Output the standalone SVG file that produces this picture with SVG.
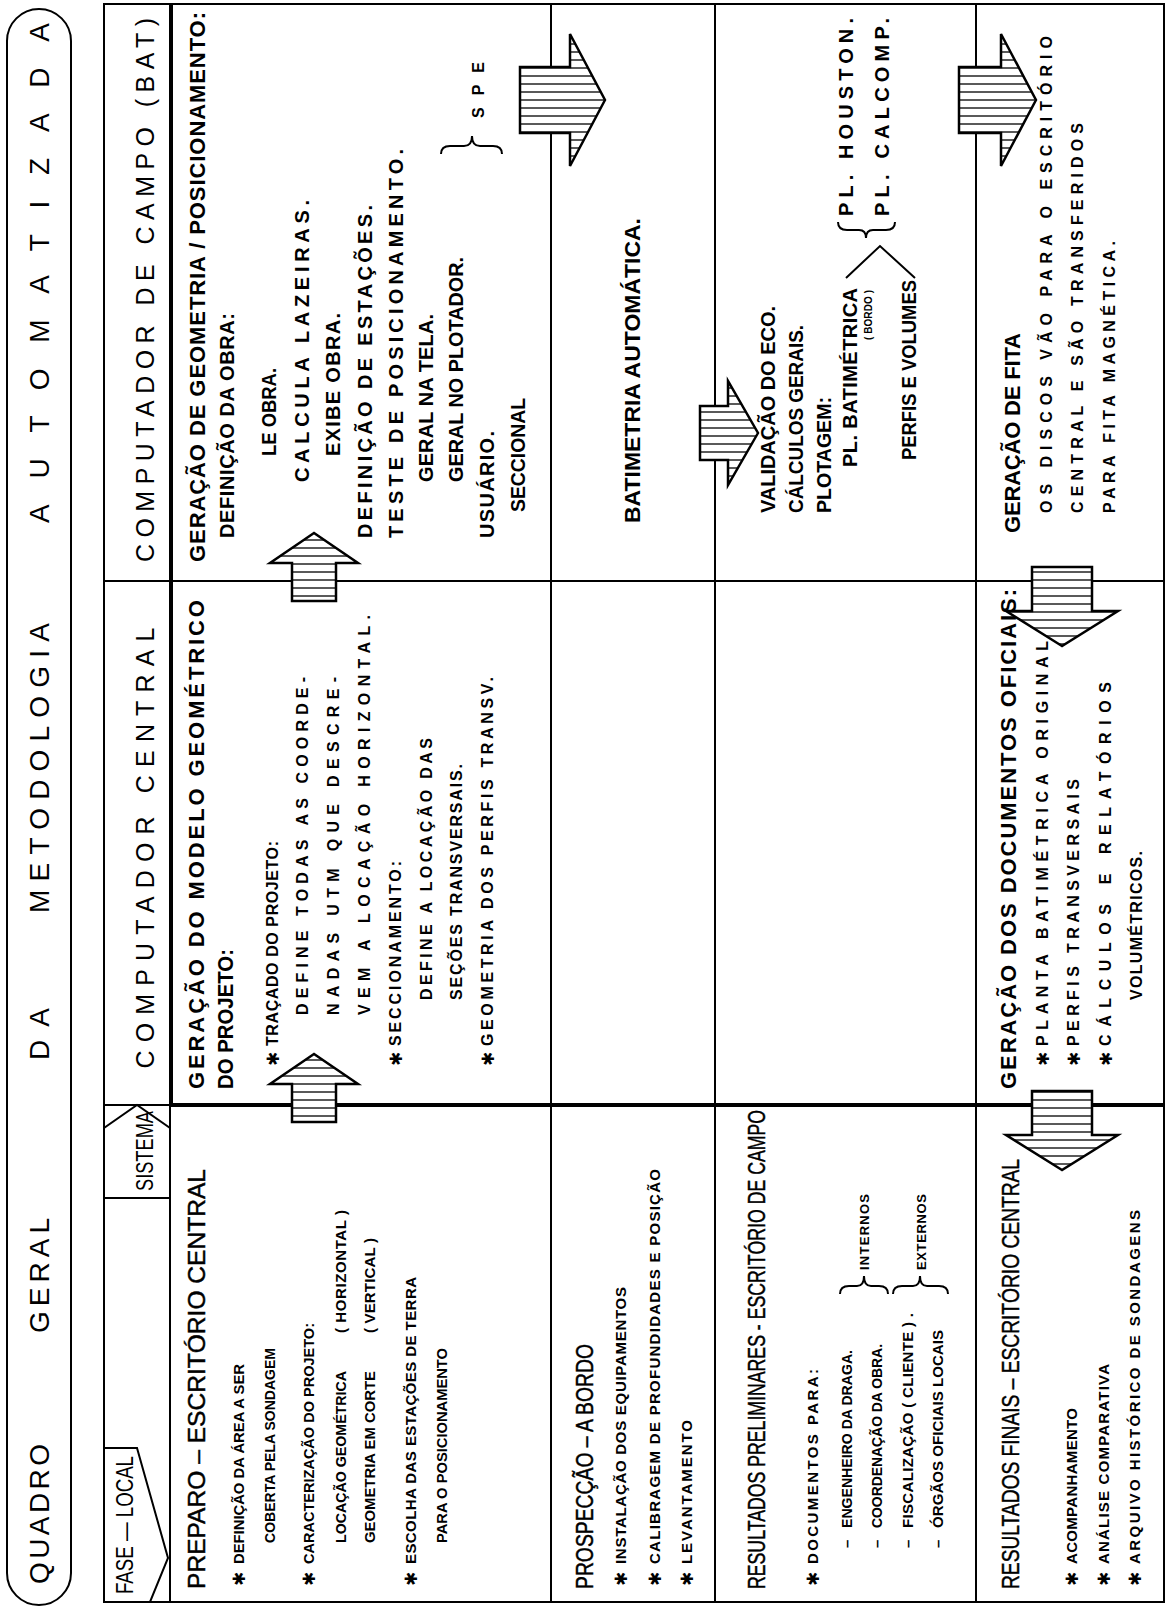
<svg xmlns="http://www.w3.org/2000/svg" width="1172" height="1608" viewBox="0 0 1172 1608" xml:space="preserve">
<defs>
<style>
text{font-family:"Liberation Sans",Arial,sans-serif;fill:#000}
.ttl{font-size:28px}
.hd{font-size:25px}
.tg{font-size:23px}
.rw{font-size:23px;stroke:#000;stroke-width:0.45}
.sb{font-size:15px;font-weight:bold}
.sc{font-size:16px;font-weight:bold}
.cb{font-size:20px;font-weight:bold}
.ch{font-size:22px;font-weight:bold}
.xs{font-size:16px;font-weight:bold}
.xt{font-size:13px;font-weight:bold}
.tn{font-size:10px;font-weight:bold}
.st{font-family:"DejaVu Sans",sans-serif;font-size:17px}
.ln{stroke:#000;stroke-width:2;fill:none}
.lt{stroke:#000;stroke-width:4;fill:none}
.arw{stroke:#000;stroke-width:2.5;stroke-linejoin:miter;fill:url(#hv)}
</style>
<pattern id="hv" width="8" height="8" patternUnits="userSpaceOnUse"><rect width="8" height="8" fill="#fff"/><line x1="4" y1="0" x2="4" y2="8" stroke="#000" stroke-width="1.3"/></pattern>
</defs>
<rect width="1172" height="1608" fill="#fff"/>
<g transform="translate(0,1608) rotate(-90)">
<g id="title">
<rect x="3" y="7" width="1596" height="64" rx="32" class="ln" stroke-width="2.5"/>
<text class="ttl" x="24" y="49" textLength="140" lengthAdjust="spacing">QUADRO</text>
<text class="ttl" x="275" y="49" textLength="115" lengthAdjust="spacing">GERAL</text>
<text class="ttl" x="548" y="49" textLength="52" lengthAdjust="spacing">DA</text>
<text class="ttl" x="695" y="49" textLength="290" lengthAdjust="spacing">METODOLOGIA</text>
<text class="ttl" x="1085" y="49" textLength="500" lengthAdjust="spacing">AUTOMATIZADA</text>
</g>
<g id="grid">
<rect x="6" y="104" width="1598" height="1060" class="ln" stroke-width="3.5"/>
<line x1="6" y1="170" x2="503" y2="170" class="ln"/>
<line x1="503" y1="171" x2="1604" y2="171" class="lt"/>
<line x1="503" y1="104" x2="503" y2="170" class="ln"/>
<line x1="503" y1="170" x2="503" y2="1164" class="lt"/>
<line x1="1027" y1="104" x2="1027" y2="1164" class="ln"/>
<line x1="6" y1="551" x2="1604" y2="551" class="ln"/>
<line x1="6" y1="715" x2="1604" y2="715" class="ln"/>
<line x1="6" y1="976" x2="1604" y2="976" class="ln"/>
</g>
<g id="hdr-fase">
<polygon points="6,104 160,104 160,137 50,168 6,150" class="ln"/>
<text class="tg" x="14" y="133" textLength="138" lengthAdjust="spacingAndGlyphs">FASE — LOCAL</text>
</g>
<g id="hdr-sistema">
<polygon points="410,104 480,104 503,137 480,170 410,170" class="ln"/>
<text class="tg" x="417" y="153" textLength="80" lengthAdjust="spacingAndGlyphs">SISTEMA</text>
</g>
<g id="hdr-central">
<text class="hd" x="760" y="154" text-anchor="middle" textLength="441" lengthAdjust="spacing">COMPUTADOR  CENTRAL</text>
</g>
<g id="hdr-campo">
<text class="hd" x="1318" y="154" text-anchor="middle" textLength="544" lengthAdjust="spacing">COMPUTADOR  DE  CAMPO  (BAT)</text>
</g>
<g id="preparo-fase">
<text class="rw" x="19" y="205" textLength="420" lengthAdjust="spacingAndGlyphs">PREPARO  –  ESCRITÓRIO  CENTRAL</text>
<text class="st" x="22" y="245">✱</text>
<text class="sb" x="44" y="244" textLength="200" lengthAdjust="spacingAndGlyphs">DEFINIÇÃO DA ÁREA A SER</text>
<text class="sb" x="65" y="275" textLength="195" lengthAdjust="spacingAndGlyphs">COBERTA PELA SONDAGEM</text>
<text class="st" x="22" y="315">✱</text>
<text class="sb" x="44" y="314" textLength="241" lengthAdjust="spacingAndGlyphs">CARACTERIZAÇÃO DO PROJETO:</text>
<text class="sb" x="65" y="346" textLength="172" lengthAdjust="spacingAndGlyphs">LOCAÇÃO GEOMÉTRICA</text>
<text class="sb" x="275" y="346" textLength="123" lengthAdjust="spacing">( HORIZONTAL )</text>
<text class="sb" x="65" y="375" textLength="172" lengthAdjust="spacingAndGlyphs">GEOMETRIA EM CORTE</text>
<text class="sb" x="275" y="375" textLength="95" lengthAdjust="spacing">( VERTICAL )</text>
<text class="st" x="22" y="417">✱</text>
<text class="sb" x="44" y="416" textLength="287" lengthAdjust="spacing">ESCOLHA DAS ESTAÇÕES DE TERRA</text>
<text class="sb" x="65" y="447" textLength="195" lengthAdjust="spacingAndGlyphs">PARA O POSICIONAMENTO</text>
</g>
<g id="prospeccao-fase">
<text class="rw" x="19" y="593" textLength="245" lengthAdjust="spacingAndGlyphs">PROSPECÇÃO  –  A BORDO</text>
<text class="st" x="22" y="627">✱</text>
<text class="sb" x="44" y="626" textLength="277" lengthAdjust="spacing">INSTALAÇÃO DOS EQUIPAMENTOS</text>
<text class="st" x="22" y="661">✱</text>
<text class="sb" x="44" y="660" textLength="395" lengthAdjust="spacing">CALIBRAGEM DE PROFUNDIDADES E POSIÇÃO</text>
<text class="st" x="22" y="693">✱</text>
<text class="sb" x="44" y="692" textLength="144" lengthAdjust="spacing">LEVANTAMENTO</text>
</g>
<g id="prelim-fase">
<text class="rw" x="19" y="765" textLength="479" lengthAdjust="spacingAndGlyphs">RESULTADOS PRELIMINARES - ESCRITÓRIO DE CAMPO</text>
<text class="st" x="22" y="819">✱</text>
<text class="sb" x="44" y="818" textLength="195" lengthAdjust="spacing">DOCUMENTOS  PARA:</text>
<text class="sb" x="60" y="852">–</text>
<text class="sb" x="80" y="852" textLength="178" lengthAdjust="spacingAndGlyphs">ENGENHEIRO  DA  DRAGA.</text>
<text class="sb" x="60" y="882">–</text>
<text class="sb" x="80" y="882" textLength="184" lengthAdjust="spacingAndGlyphs">COORDENAÇÃO  DA  OBRA.</text>
<text class="sb" x="60" y="913">–</text>
<text class="sb" x="80" y="913" textLength="215" lengthAdjust="spacing">FISCALIZAÇÃO  ( CLIENTE ) .</text>
<text class="sb" x="60" y="943">–</text>
<text class="sb" x="80" y="943" textLength="198" lengthAdjust="spacingAndGlyphs">ÓRGÃOS  OFICIAIS  LOCAIS</text>
<path d="M314,840 Q322,840 322,849 L322,857 Q322,864 332,864 Q322,864 322,871 L322,879 Q322,888 314,888" class="ln"/>
<text class="xt" x="338" y="869" textLength="76" lengthAdjust="spacing">INTERNOS</text>
<path d="M314,893 Q322,893 322,902 L322,913 Q322,920 332,920 Q322,920 322,927 L322,939 Q322,948 314,948" class="ln"/>
<text class="xt" x="338" y="926" textLength="76" lengthAdjust="spacing">EXTERNOS</text>
</g>
<g id="finais-fase">
<text class="rw" x="19" y="1019" textLength="430" lengthAdjust="spacingAndGlyphs">RESULTADOS FINAIS  –  ESCRITÓRIO CENTRAL</text>
<text class="st" x="22" y="1078">✱</text>
<text class="sb" x="44" y="1077" textLength="156" lengthAdjust="spacing">ACOMPANHAMENTO</text>
<text class="st" x="22" y="1110">✱</text>
<text class="sb" x="44" y="1109" textLength="200" lengthAdjust="spacing">ANÁLISE  COMPARATIVA</text>
<text class="st" x="22" y="1141">✱</text>
<text class="sb" x="44" y="1140" textLength="354" lengthAdjust="spacing">ARQUIVO  HISTÓRICO  DE  SONDAGENS</text>
</g>
<g id="preparo-central">
<text class="ch" x="519" y="204" textLength="489" lengthAdjust="spacing">GERAÇÃO DO MODELO GEOMÉTRICO</text>
<text class="ch" x="519" y="233" textLength="140" lengthAdjust="spacingAndGlyphs">DO PROJETO:</text>
<text class="st" x="542" y="279">✱</text>
<text class="sc" x="562" y="278" textLength="205" lengthAdjust="spacing">TRAÇADO DO PROJETO:</text>
<text class="sc" x="593" y="308" textLength="338" lengthAdjust="spacing">DEFINE TODAS AS COORDE-</text>
<text class="sc" x="593" y="339" textLength="338" lengthAdjust="spacing">NADAS UTM QUE DESCRE-</text>
<text class="sc" x="593" y="370" textLength="400" lengthAdjust="spacing">VEM A LOCAÇÃO HORIZONTAL.</text>
<text class="st" x="542" y="402">✱</text>
<text class="sc" x="562" y="401" textLength="185" lengthAdjust="spacing">SECCIONAMENTO:</text>
<text class="sc" x="608" y="432" textLength="262" lengthAdjust="spacing">DEFINE  A  LOCAÇÃO  DAS</text>
<text class="sc" x="608" y="462" textLength="236" lengthAdjust="spacing">SEÇÕES  TRANSVERSAIS.</text>
<text class="st" x="542" y="494">✱</text>
<text class="sc" x="562" y="493" textLength="369" lengthAdjust="spacing">GEOMETRIA DOS PERFIS TRANSV.</text>
</g>
<g id="finais-central">
<text class="ch" x="519" y="1016" textLength="500" lengthAdjust="spacing">GERAÇÃO DOS DOCUMENTOS OFICIAIS:</text>
<text class="st" x="542" y="1049">✱</text>
<text class="sc" x="562" y="1048" textLength="405" lengthAdjust="spacing">PLANTA BATIMÉTRICA ORIGINAL</text>
<text class="st" x="542" y="1080">✱</text>
<text class="sc" x="562" y="1079" textLength="267" lengthAdjust="spacing">PERFIS TRANSVERSAIS</text>
<text class="st" x="542" y="1112">✱</text>
<text class="sc" x="562" y="1111" textLength="364" lengthAdjust="spacing">CÁLCULOS  E  RELATÓRIOS</text>
<text class="sc" x="608" y="1142" textLength="149" lengthAdjust="spacing">VOLUMÉTRICOS.</text>
</g>
<g id="preparo-campo">
<text class="ch" x="1046" y="205" textLength="550" lengthAdjust="spacing">GERAÇÃO DE GEOMETRIA / POSICIONAMENTO:</text>
<text class="cb" x="1070" y="234" textLength="225" lengthAdjust="spacing">DEFINIÇÃO DA OBRA:</text>
<text class="cb" x="1152" y="276" textLength="88" lengthAdjust="spacingAndGlyphs">LE OBRA.</text>
<text class="cb" x="1126" y="309" textLength="282" lengthAdjust="spacing">CALCULA LAZEIRAS.</text>
<text class="cb" x="1152" y="340" textLength="143" lengthAdjust="spacing">EXIBE OBRA.</text>
<text class="cb" x="1070" y="372" textLength="333" lengthAdjust="spacing">DEFINIÇÃO DE ESTAÇÕES.</text>
<text class="cb" x="1070" y="403" textLength="389" lengthAdjust="spacing">TESTE DE POSICIONAMENTO.</text>
<text class="cb" x="1126" y="433" textLength="168" lengthAdjust="spacing">GERAL NA TELA.</text>
<text class="cb" x="1126" y="463" textLength="225" lengthAdjust="spacingAndGlyphs">GERAL NO PLOTADOR.</text>
<text class="cb" x="1070" y="494" textLength="107" lengthAdjust="spacing">USUÁRIO.</text>
<text class="cb" x="1096" y="525" textLength="114" lengthAdjust="spacingAndGlyphs">SECCIONAL</text>
<path d="M1454,441 Q1462,441 1462,450 L1462,464 Q1462,472 1472,472 Q1462,472 1462,480 L1462,493 Q1462,502 1454,502" class="ln"/>
<text class="xs" x="1490" y="484" textLength="56" lengthAdjust="spacing">SPE</text>
</g>
<g id="prospeccao-campo">
<text class="ch" x="1085" y="640" textLength="305" lengthAdjust="spacingAndGlyphs">BATIMETRIA   AUTOMÁTICA.</text>
</g>
<g id="prelim-campo">
<text class="cb" x="1095" y="775" textLength="207" lengthAdjust="spacing">VALIDAÇÃO DO ECO.</text>
<text class="cb" x="1095" y="803" textLength="188" lengthAdjust="spacingAndGlyphs">CÁLCULOS GERAIS.</text>
<text class="cb" x="1095" y="831" textLength="116" lengthAdjust="spacingAndGlyphs">PLOTAGEM:</text>
<text class="cb" x="1141" y="857" textLength="179" lengthAdjust="spacing">PL. BATIMÉTRICA</text>
<text class="tn" x="1268" y="872" textLength="50" lengthAdjust="spacing">( BORDO )</text>
<text class="cb" x="1148" y="916" textLength="180" lengthAdjust="spacingAndGlyphs">PERFIS E VOLUMES</text>
<polyline points="1330,846 1362,880 1330,915" class="ln" stroke-width="2.5"/>
<path d="M1386,838 Q1378,838 1378,847 L1378,859 Q1378,866 1370,866 Q1378,866 1378,873 L1378,886 Q1378,895 1386,895" class="ln"/>
<text class="cb" x="1392" y="853" textLength="198" lengthAdjust="spacing">PL.  HOUSTON.</text>
<text class="cb" x="1392" y="889" textLength="198" lengthAdjust="spacing">PL.  CALCOMP.</text>
</g>
<g id="finais-campo">
<text class="ch" x="1075" y="1020" textLength="200" lengthAdjust="spacing">GERAÇÃO DE FITA</text>
<text class="xs" x="1095" y="1052" textLength="477" lengthAdjust="spacing">OS DISCOS VÃO PARA O ESCRITÓRIO</text>
<text class="xs" x="1095" y="1083" textLength="390" lengthAdjust="spacing">CENTRAL E SÃO TRANSFERIDOS</text>
<text class="xs" x="1095" y="1115" textLength="272" lengthAdjust="spacing">PARA FITA MAGNÉTICA.</text>
</g>
<g id="connectors">
<polygon class="arw" points="554,314 524,270 524,292 486,292 486,336 524,336 524,358"/>
<polygon class="arw" points="1075,314 1045,270 1045,292 1007,292 1007,336 1045,336 1045,358"/>
<polygon class="arw" points="1508,605 1442,570 1475,570 1475,520 1541,520 1541,570 1574,570"/>
<polygon class="arw" points="1175,758 1123,728 1148,728 1148,700 1202,700 1202,728 1227,728"/>
<polygon class="arw" points="1508,1036 1442,1001 1475,1001 1475,959 1541,959 1541,1001 1574,1001"/>
<polygon class="arw" points="962,1062 997,1006 997,1032 1041,1032 1041,1092 997,1092 997,1118"/>
<polygon class="arw" points="438,1062 473,1006 473,1032 517,1032 517,1092 473,1092 473,1118"/>
</g>
</g>
</svg>
